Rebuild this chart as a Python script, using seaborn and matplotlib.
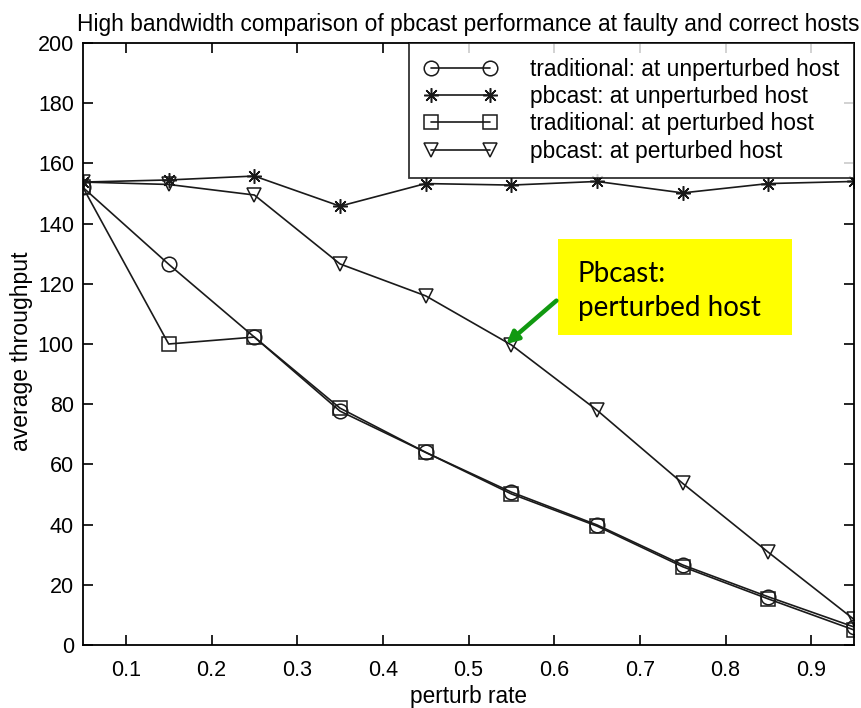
import matplotlib
matplotlib.use("Agg")
import matplotlib.pyplot as plt
from matplotlib.patches import Rectangle
import seaborn as sns
import pandas as pd

# Perturb rates on the x axis
perturb_rate = [0.05, 0.15, 0.25, 0.35, 0.45, 0.55, 0.65, 0.75, 0.85, 0.95]

# Average throughput for each protocol / host type
trad_unperturbed = [152.0, 126.5, 102.3, 77.7, 64.0, 50.8, 39.9, 26.6, 16.0, 6.0]
pbcast_unperturbed = [153.8, 154.5, 155.8, 145.8, 153.3, 152.8, 154.0, 150.2, 153.3, 154.0]
trad_perturbed = [152.0, 100.0, 102.3, 78.7, 64.0, 50.2, 39.5, 26.0, 15.3, 5.0]
pbcast_perturbed = [153.8, 153.0, 149.5, 126.6, 116.0, 99.7, 78.0, 53.7, 30.8, 8.5]

series_names = [
    "traditional: at unperturbed host",
    "pbcast: at unperturbed host",
    "traditional: at perturbed host",
    "pbcast: at perturbed host",
]
series_values = [trad_unperturbed, pbcast_unperturbed, trad_perturbed, pbcast_perturbed]
series_markers = ["o", (8, 2, 0), "s", "v"]

x_ticks = [0.1, 0.2, 0.3, 0.4, 0.5, 0.6, 0.7, 0.8, 0.9]
y_ticks = [0, 20, 40, 60, 80, 100, 120, 140, 160, 180, 200]

rows = []
for name, vals in zip(series_names, series_values):
    for x, y in zip(perturb_rate, vals):
        rows.append({"perturb rate": x, "average throughput": y, "series": name})
df = pd.DataFrame(rows)

sns.set_style("ticks")
plt.rcParams["font.family"] = ["Liberation Sans", "DejaVu Sans"]
plt.rcParams["text.color"] = "black"
plt.rcParams["axes.labelcolor"] = "black"

fig = plt.figure(figsize=(8.62, 7.08), dpi=100)
ax = fig.add_axes([83 / 862, 1 - 645 / 708, (854 - 83) / 862, (645 - 43) / 708])

ink = "#1a1a1a"
for name, mk in zip(series_names, series_markers):
    sns.lineplot(
        data=df[df["series"] == name], x="perturb rate", y="average throughput",
        color=ink, marker=mk, ax=ax, linewidth=1.2, markersize=10.5,
        markerfacecolor="none", markeredgecolor=ink,
        markeredgewidth=1.1, label=name,
    )

ax.set_xlim(0.05, 0.95)
ax.set_ylim(0, 200)
ax.set_xticks(x_ticks)
ax.set_xticklabels([f"{t:g}" for t in x_ticks])
ax.set_yticks(y_ticks)
for s in ax.spines.values():
    s.set_visible(True)
    s.set_linewidth(1.3)
    s.set_color("black")
ax.tick_params(direction="in", length=7, width=1.2, top=True, right=True,
               labelsize=15.5, colors="black")
ax.tick_params(axis="x", pad=10.5)
ax.tick_params(axis="y", pad=6.5)
ax.set_xlabel("perturb rate", fontsize=16.3, labelpad=3)
ax.set_ylabel("average throughput", fontsize=16.6)
ax.yaxis.set_label_coords(-0.065, 0.488)
ax.set_title("High bandwidth comparison of pbcast performance at faulty and correct hosts",
             fontsize=16.4, pad=9)

leg = ax.legend(handles=ax.get_lines()[:4], labels=series_names, loc="upper right",
                numpoints=2, handlelength=3.2, fontsize=16.4, frameon=True,
                fancybox=False, edgecolor="black", borderaxespad=0.0,
                borderpad=0.65, handletextpad=1.45, labelspacing=0.19)
leg.get_frame().set_linewidth(1.3)

# Callout box pointing at the perturbed pbcast curve
ax.add_patch(Rectangle((0.616, 0.515), 0.3035, 0.1595, transform=ax.transAxes,
                       facecolor="#ffff00", edgecolor="none", zorder=5))
ax.text(0.642, 0.588, "Pbcast:\nperturbed host", transform=ax.transAxes,
        fontsize=20, family=["Lato", "DejaVu Sans"], va="center", ha="left",
        linespacing=1.42, zorder=6)
ax.annotate("", xy=(perturb_rate[5] - 0.006, pbcast_perturbed[5] + 0.3),
            xytext=(0.614, 0.572), textcoords="axes fraction",
            arrowprops=dict(arrowstyle="-|>,head_length=0.7,head_width=0.35",
                            color="#119911", lw=3.2, shrinkA=0, shrinkB=0),
            zorder=6)

fig.savefig("out.png", dpi=100)
